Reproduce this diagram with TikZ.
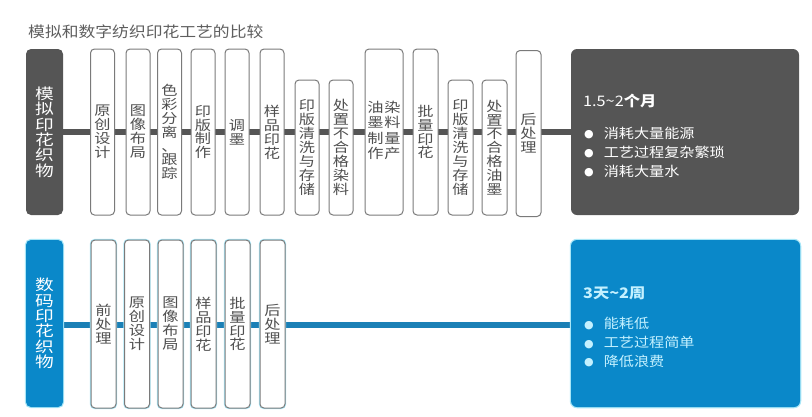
\documentclass[tikz,border=0pt]{standalone}
\usepackage{fontspec}
\newfontfamily\cjk[FakeStretch=1.12]{Noto Sans CJK SC}
\newfontfamily\cjkw[FakeStretch=1.2]{Noto Sans CJK SC}
\newfontfamily\cjkl[FakeStretch=1.25]{Noto Sans CJK SC}
\newfontfamily\symf{DejaVu Sans}
\usetikzlibrary{backgrounds}
\definecolor{dk}{HTML}{555555}
\definecolor{bl}{HTML}{0A88C9}
\definecolor{blbar}{HTML}{1B80B6}
\definecolor{glow}{HTML}{A8E6F7}
\definecolor{stepline}{HTML}{7A7A7A}
\definecolor{steptext}{HTML}{505050}
\definecolor{titlec}{HTML}{5E5E5E}
\definecolor{cyantext}{HTML}{C4F1FF}
\newcommand{\bul}{\raisebox{0.6pt}{\symf\fontsize{11}{11}\selectfont ●}}
\begin{document}
\begin{tikzpicture}[x=1pt,y=-1pt,
  stepbox/.style={draw=stepline, line width=1pt, fill=white, rounded corners=4pt,
    minimum width=24pt, inner sep=0pt, text=steptext,
    font=\cjkw\fontsize{13.5}{13.9}\selectfont, align=center},
  bstep/.style={stepbox, minimum width=25pt, minimum height=168pt,
    preaction={draw=glow, line width=2.4pt}},
  lblbox/.style={rounded corners=5pt, minimum width=37pt, inner sep=0pt,
    text=white, font=\cjkl\fontsize{15}{15.4}\selectfont, align=center},
  resbox/.style={rounded corners=6pt, inner sep=0pt},
  restitle/.style={anchor=west, inner sep=0pt, font=\cjk\fontsize{14.5}{16}\selectfont},
  reslist/.style={anchor=west, inner sep=0pt, font=\cjk\fontsize{13.5}{18.8}\selectfont},
  topbar/.style={draw=dk, line width=6pt},
  botbar/.style={draw=blbar, line width=6pt}]
\useasboundingbox (0,0) rectangle (812,416);
\node[anchor=west, inner sep=0pt, text=titlec, font=\cjk\fontsize{15}{16}\selectfont] (title) at (28,32) {模拟和数字纺织印花工艺的比较};
% top row
\node[lblbox, fill=dk, minimum height=166pt] (lbl) at (44.5,132) {模\\拟\\印\\花\\织\\物};
\node[stepbox, minimum height=166pt] (s1) at (102.5,132) {原\\创\\设\\计};
\node[stepbox, minimum height=166pt] (s2) at (138,132) {图\\像\\布\\局};
\node[stepbox, minimum height=166pt] (s3) at (169.5,132) {色\\彩\\分\\离\\、\\跟\\踪};
\node[stepbox, minimum height=166pt] (s4) at (203,132) {印\\版\\制\\作};
\node[stepbox, minimum height=166pt] (s5) at (237,132) {调\\墨};
\node[stepbox, minimum height=166pt] (s6) at (272,132) {样\\品\\印\\花};
\node[stepbox, minimum height=135pt] (s7) at (307,147.5) {印\\版\\清\\洗\\与\\存\\储};
\node[stepbox, minimum height=135pt] (s8) at (341,147.5) {处\\置\\不\\合\\格\\染\\料};
\node[stepbox, minimum height=166pt, minimum width=38pt] (s9) at (384,132) {\begin{tabular}{@{}c@{\hspace{1pt}}c@{}}油&染\\墨&料\\制&量\\作&产\end{tabular}};
\node[stepbox, minimum height=166pt, minimum width=25pt] (s10) at (425.5,132) {批\\量\\印\\花};
\node[stepbox, minimum height=135pt, minimum width=25pt] (s11) at (460.5,147.5) {印\\版\\清\\洗\\与\\存\\储};
\node[stepbox, minimum height=135pt, minimum width=25pt] (s12) at (494.5,147.5) {处\\置\\不\\合\\格\\油\\墨};
\node[stepbox, minimum height=166pt, minimum width=25pt] (s13) at (528.5,133.5) {后\\处\\理};
\node[resbox, fill=dk, minimum width=228pt, minimum height=166pt] (res) at (685,132) {};
\node[restitle, text=white] (rt) at (583,101) {1.5\textasciitilde 2\textbf{个月}};
\node[reslist, text=white] (rl) at (584,153.5) {\begin{tabular}{@{}l@{\hspace{10pt}}l@{}}\bul&消耗大量能源\\ \bul&工艺过程复杂繁琐\\ \bul&消耗大量水\end{tabular}};
% bottom row
\node[lblbox, fill=bl, minimum height=167pt, preaction={draw=glow, line width=2.4pt}] (lbl2) at (44.5,323.5) {数\\码\\印\\花\\织\\物};
\node[bstep] (b1) at (103.5,324) {前\\处\\理};
\node[bstep] (b2) at (137,324) {原\\创\\设\\计};
\node[bstep] (b3) at (170.5,324) {图\\像\\布\\局};
\node[bstep] (b4) at (203.5,324) {样\\品\\印\\花};
\node[bstep] (b5) at (237.5,324) {批\\量\\印\\花};
\node[bstep] (b6) at (272.5,324) {后\\处\\理};
\node[resbox, fill=bl, minimum width=229pt, minimum height=167pt, preaction={draw=glow, line width=2.5pt}] (res2) at (685.5,323.5) {};
\node[restitle, text=cyantext] (rt2) at (583,293) {\textbf{3天\textasciitilde 2周}};
\node[reslist, text=cyantext] (rl2) at (584,344) {\begin{tabular}{@{}l@{\hspace{10pt}}l@{}}\bul&能耗低\\ \bul&工艺过程简单\\ \bul&降低浪费\end{tabular}};
\begin{pgfonlayer}{background}
\draw[topbar] (lbl.east) -- (res.west);
\draw[botbar] ([yshift=-1.5pt]lbl2.east) -- ([yshift=-1.5pt]res2.west);
\end{pgfonlayer}
\end{tikzpicture}
\end{document}
